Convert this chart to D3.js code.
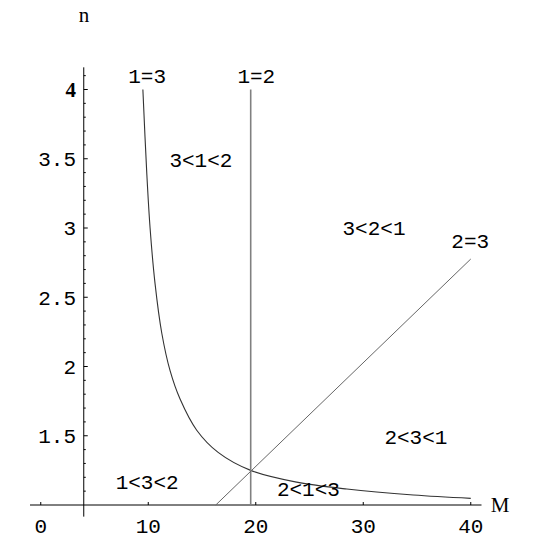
<!DOCTYPE html>
<html><head><meta charset="utf-8">
<script src="https://cdn.jsdelivr.net/npm/d3@7"></script>
<style>body{margin:0;background:#fff}svg{display:block}</style>
</head><body>
<svg id="c" width="545" height="545"></svg>
<script>
const xTicks = [0, 10, 20, 30, 40];
const yTicks = [1.5, 2, 2.5, 3, 3.5, 4];
const yTickLabels = ["1.5", "2", "2.5", "3", "3.5", "4"];
const yMinor = [1.1, 1.2, 1.3, 1.4, 1.6, 1.7, 1.8, 1.9, 2.1, 2.2, 2.3, 2.4, 2.6, 2.7, 2.8, 2.9, 3.1, 3.2, 3.3, 3.4, 3.6, 3.7, 3.8, 3.9, 4.1];
// boundary 1=3 (curve)
const curve13M = [9.5, 9.86, 10.17, 10.63, 11.26, 12.03, 12.96, 14.51, 16.5, 19.53, 23.81, 28.47, 34.66, 40];
const curve13N = [4.0, 3.40, 3.0, 2.60, 2.24, 1.97, 1.765, 1.54, 1.38, 1.25, 1.165, 1.115, 1.072, 1.048];
// boundary 1=2 (vertical line)
const line12M = [19.53, 19.53];
const line12N = [1.0, 4.0];
// boundary 2=3 (straight line)
const line23M = [16.28, 40.0];
const line23N = [1.0, 2.776];
// labels
const labelText = ["1=3", "1=2", "2=3", "3<1<2", "3<2<1", "2<3<1", "1<3<2", "2<1<3"];
const labelM = [9.9, 20.05, 39.95, 14.9, 31.0, 34.9, 9.9, 24.9];
const labelN = [4.1, 4.1, 2.91, 3.49, 3.0, 1.49, 1.17, 1.12];

const svg = d3.select("#c");
const x = d3.scaleLinear().domain([-1, 41]).range([30, 481.5]);
const y = d3.scaleLinear().domain([1, 4]).range([505, 89.5]);
const mono = "'Liberation Mono', 'DejaVu Sans Mono', monospace";

// axes
svg.append("line").attr("x1", x(-1)).attr("x2", x(41)).attr("y1", y(1)).attr("y2", y(1))
  .attr("stroke", "#000").attr("stroke-width", 1);
svg.append("line").attr("x1", x(4)).attr("x2", x(4)).attr("y1", y(0.916)).attr("y2", y(4.16))
  .attr("stroke", "#000").attr("stroke-width", 1);

// x ticks
svg.selectAll(".xt").data(xTicks).enter().append("line")
  .attr("x1", d => x(d)).attr("x2", d => x(d)).attr("y1", y(1)).attr("y2", y(1) - 3)
  .attr("stroke", "#000").attr("stroke-width", 1);
svg.selectAll(".xl").data(xTicks).enter().append("text")
  .attr("x", d => x(d)).attr("y", 533).attr("text-anchor", "middle")
  .attr("font-family", mono).attr("font-size", 21).attr("fill", "#000")
  .text(d => d);

// y ticks
svg.selectAll(".yt").data(yTicks).enter().append("line")
  .attr("x1", x(4)).attr("x2", x(4) + 4).attr("y1", d => y(d)).attr("y2", d => y(d))
  .attr("stroke", "#000").attr("stroke-width", 1);
svg.selectAll(".ym").data(yMinor).enter().append("line")
  .attr("x1", x(4)).attr("x2", x(4) + 2).attr("y1", d => y(d)).attr("y2", d => y(d))
  .attr("stroke", "#000").attr("stroke-width", 1);
svg.selectAll(".yl").data(yTicks).enter().append("text")
  .attr("x", 76).attr("y", d => y(d)).attr("dy", "0.35em").attr("text-anchor", "end")
  .attr("font-family", (d, i) => yTickLabels[i] === "4" ? "'Liberation Serif', serif" : mono)
  .attr("font-weight", (d, i) => yTickLabels[i] === "4" ? "bold" : "normal")
  .attr("font-size", 21).attr("fill", "#000")
  .text((d, i) => yTickLabels[i]);

// axis labels
svg.append("text").attr("x", 84).attr("y", 22).attr("text-anchor", "middle")
  .attr("font-family", "'Liberation Serif', serif").attr("font-size", 21).text("n");
svg.append("text").attr("x", 500).attr("y", 512).attr("text-anchor", "middle")
  .attr("font-family", "'Liberation Serif', serif").attr("font-size", 21).text("M");

const line = d3.line().x(d => x(d[0])).y(d => y(d[1]));
svg.append("path").datum(curve13M.map((m, i) => [m, curve13N[i]]))
  .attr("d", line.curve(d3.curveCatmullRom.alpha(0.5))).attr("fill", "none").attr("stroke", "#333").attr("stroke-width", 1.1);
svg.append("path").datum(line12M.map((m, i) => [m, line12N[i]]))
  .attr("d", d3.line().x(d => x(d[0])).y(d => y(d[1]))).attr("fill", "none").attr("stroke", "#808080").attr("stroke-width", 1.6);
svg.append("path").datum(line23M.map((m, i) => [m, line23N[i]]))
  .attr("d", d3.line().x(d => x(d[0])).y(d => y(d[1]))).attr("fill", "none").attr("stroke", "#666").attr("stroke-width", 1);

svg.selectAll(".lab").data(labelText).enter().append("text")
  .attr("x", (d, i) => x(labelM[i])).attr("y", (d, i) => y(labelN[i])).attr("dy", "0.35em")
  .attr("text-anchor", "middle").attr("font-family", mono).attr("font-size", 21).attr("fill", "#000")
  .text(d => d);
</script>
</body></html>
